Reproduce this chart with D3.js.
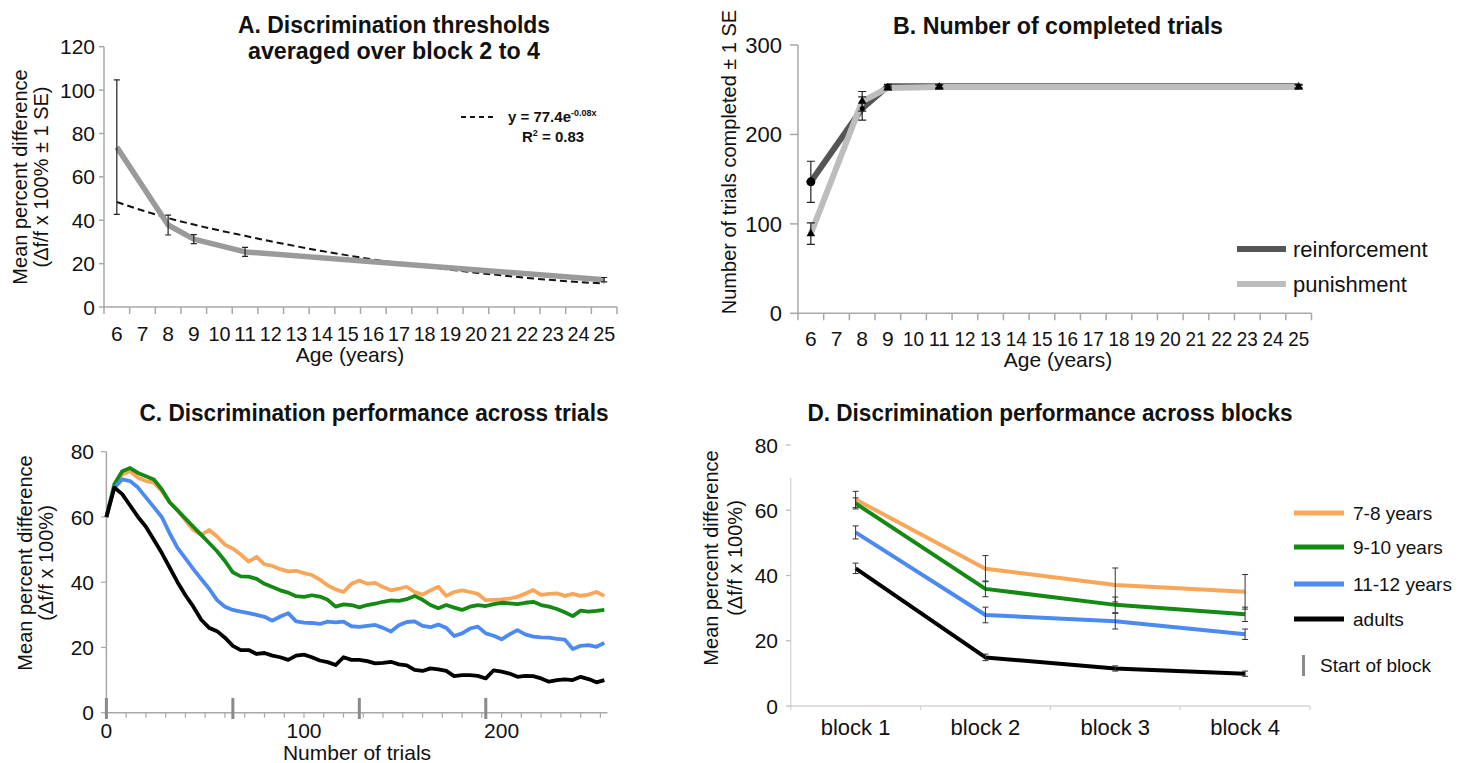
<!DOCTYPE html>
<html><head><meta charset="utf-8">
<script src="https://cdn.jsdelivr.net/npm/d3@7"></script>
<style>
body{margin:0;background:#fff}
svg text{font-family:"Liberation Sans",Arial,sans-serif;fill:#111}
</style>
</head><body>
<svg id="chart" width="1465" height="763"></svg>
<script>
// ---------------- DATA ----------------
const ageLabels = ["6","7","8","9","10","11","12","13","14","15","16","17","18","19","20","21","22","23","24","25"];
// Panel A
const thrAges = ["6","8","9","11","25"];
const thrMean = [73.7, 37.8, 31.3, 25.4, 12.6];
const thrSE   = [31, 4.6, 2.1, 2.1, 1.0];
const fitValues = [48.4,44.5,41,38,35.3,32.8,30.3,28,25.8,23.8,21.9,20.2,18.6,17.2,15.8,14.6,13.4,12.4,11.5,10.9];
const thrTicks = [0,20,40,60,80,100,120];
// Panel B
const compAges = ["6","8","9","11","25"];
const reinfTrials = [147, 229, 254, 254, 254];
const reinfSE     = [23, 13, 2, 2, 2];
const punTrials   = [89, 237, 252, 253, 253];
const punSE       = [12, 11, 2, 2, 2];
const compTicks = [0,100,200,300];
// Panel C
const trialIdx = [0,4,8,12,16,20,24,28,32,36,40,44,48,52,56,60,64,68,72,76,80,84,88,92,96,100,104,108,112,116,120,124,128,132,136,140,144,148,152,156,160,164,168,172,176,180,184,188,192,196,200,204,208,212,216,220,224,228,232,236,240,244,248,252];
const trials78 = [60,69,73,74,72,71,70.5,68,64.5,62,59,56,54.5,56,54,51.5,50.3,48.5,46.3,47.8,45.5,45,44,43.3,43.5,42.8,42.2,40.8,39,37.8,37,39.5,40.5,39.5,39.8,38.5,37.5,38,38.6,37,36.2,37.5,38.6,35.8,37,37.5,37,36.4,34.5,34.6,34.7,35,35.5,36.5,37.6,36.1,36.4,36.6,35.8,36.4,35.8,36.2,37,35.8];
const trials910 = [60,70,74,75,73.5,72.5,71.5,68.5,64.5,62,59.5,57,54.5,52,49.5,46.5,43,41.8,41.7,41,39.5,38.5,37.5,36.8,35.7,35.5,36,35.6,34.6,32.5,33.2,33,32.3,33,33.4,34,34.4,34.3,34.8,35.8,34.6,33,32,33,32.2,31.5,32.5,33,32.7,33.3,33.7,33.5,33.3,33.7,34,33,32.5,31.8,30.8,29.6,31.3,31,31.2,31.5];
const trials1112 = [60,69,71.5,71,69,66,63,60,55,50.5,47.3,44,41,38,34.5,32.5,31.5,31,30.5,30,29.4,28.2,29.5,30.5,28,27.6,27.5,27.2,27.9,27.7,27.9,26.5,26.3,26.6,26.9,26,24.9,26.8,27.8,28,26.6,26.2,27,26,23.5,24.3,25.8,26.4,24.3,23.6,22.5,24,25.3,24,23.3,23.1,23,22.6,22.4,19.5,20.5,20.7,20.2,21.4];
const trialsAdults = [60,69,67,63.5,60,57,53,49,44.5,40,36,32.5,28.5,26,25,23,20.5,19.2,19.2,18,18.3,17.5,17,16.2,17.5,17.8,17,16,15.5,14.6,17,16.2,16.2,15.8,15.1,15.3,15.6,14.8,14.5,13.1,12.8,13.6,13.3,12.8,11.2,11.5,11.5,11.3,10.5,13,12.6,12,11,11.3,11.2,10.5,9.5,10,10.2,10,11,10.3,9.3,10];
const blockStarts = [0,64,128,192];
const trialTicks = [0,100,200];
const perfTicks = [0,20,40,60,80];
// Panel D
const blockLabels = ["block 1","block 2","block 3","block 4"];
const groupNames = ["7-8 years","9-10 years","11-12 years","adults"];
const block78 = [63.3, 42.1, 37.1, 35.0];
const se78    = [2.5, 4.0, 5.2, 5.3];
const block910 = [62.1, 35.9, 31.0, 28.1];
const se910    = [1.7, 2.4, 2.4, 2.2];
const block1112 = [53.2, 27.9, 26.0, 22.0];
const se1112    = [2.0, 2.4, 2.4, 1.6];
const blockAdults = [42.2, 14.9, 11.5, 9.9];
const seAdults    = [1.6, 1.0, 0.8, 0.8];

const groupColors = ["#f8a65a","#148a14","#4a8af2","#000000"];

// ---------------- DRAW ----------------
const svg = d3.select("#chart");
svg.append("rect").attr("width",1465).attr("height",763).attr("fill","#fff");
const axisCol = "#a8a8a8";

function title(txt, cx, y, w) {
  svg.append("text").attr("x",cx).attr("y",y).attr("text-anchor","middle")
    .attr("font-weight","bold").attr("font-size",23)
    .attr("textLength",w).attr("lengthAdjust","spacingAndGlyphs").text(txt);
}
function yLabel(txt, x, cy, size) {
  svg.append("text").attr("transform",`translate(${x},${cy}) rotate(-90)`)
    .attr("text-anchor","middle").attr("dy","0.35em").attr("font-size",size||20).text(txt);
}
function errBars(g, xs, ys, means, ses, cap, col, w) {
  const d = means.map((m,i)=>({x:xs[i], m, s:ses[i]}));
  const e = g.append("g").attr("stroke",col).attr("stroke-width",w||1.2).attr("fill","none");
  e.selectAll("path").data(d).join("path")
    .attr("d", p => {
      const t = ys(p.m+p.s), b = ys(p.m-p.s);
      return `M${p.x},${t}V${b}M${p.x-cap},${t}H${p.x+cap}M${p.x-cap},${b}H${p.x+cap}`;
    });
}

// ===== Panel A =====
{
  const xA = d3.scaleBand().domain(ageLabels).range([104,617]);
  const yA = d3.scaleLinear().domain([0,120]).range([307,46.7]);
  const cx = a => xA(a) + xA.bandwidth()/2;
  const g = svg.append("g");
  g.append("line").attr("x1",104).attr("x2",104).attr("y1",yA(120)).attr("y2",yA(0)).attr("stroke",axisCol).attr("stroke-width",1.5);
  g.append("line").attr("x1",104).attr("x2",617).attr("y1",yA(0)).attr("y2",yA(0)).attr("stroke",axisCol).attr("stroke-width",1.5);
  const bounds = ageLabels.map(a=>xA(a)).concat([617]);
  g.selectAll(".bt").data(bounds).join("line").attr("x1",d=>d).attr("x2",d=>d).attr("y1",yA(0)).attr("y2",yA(0)+7).attr("stroke",axisCol).attr("stroke-width",1.5);
  g.selectAll(".yt").data(thrTicks).join("line").attr("x1",99).attr("x2",104).attr("y1",d=>yA(d)).attr("y2",d=>yA(d)).attr("stroke",axisCol).attr("stroke-width",1.5);
  g.selectAll(".yl").data(thrTicks).join("text").attr("x",95).attr("y",d=>yA(d)).attr("dy","0.36em").attr("text-anchor","end").attr("font-size",21).text(d=>d);
  g.selectAll(".xl").data(ageLabels).join("text").attr("x",d=>cx(d)).attr("y",341).attr("text-anchor","middle").attr("font-size",21)
    .attr("textLength",d=>d.length>1?22:null).attr("lengthAdjust","spacingAndGlyphs").text(d=>d);
  g.append("text").attr("x",350).attr("y",362).attr("text-anchor","middle").attr("font-size",21).text("Age (years)");
  yLabel("Mean percent difference", 20, 177);
  yLabel("(\u0394f/f x 100% \u00b1 1 SE)", 41, 177);
  g.append("path").datum(fitValues).attr("fill","none").attr("stroke","#111").attr("stroke-width",2).attr("stroke-dasharray","7,4")
    .attr("d", d3.line().x((d,i)=>cx(ageLabels[i])).y(d=>yA(d)).curve(d3.curveMonotoneX));
  g.append("path").datum(thrMean).attr("fill","none").attr("stroke","#9a9a9a").attr("stroke-width",5.5).attr("stroke-linejoin","round")
    .attr("d", d3.line().x((d,i)=>cx(thrAges[i])).y(d=>yA(d)));
  errBars(g, thrAges.map(cx), yA, thrMean, thrSE, 3, "#222", 1.2);
  g.append("line").attr("x1",461).attr("x2",495).attr("y1",117).attr("y2",117).attr("stroke","#111").attr("stroke-width",2).attr("stroke-dasharray","5,4");
  const t1 = g.append("text").attr("x",508).attr("y",122).attr("font-size",15).attr("font-weight","bold");
  t1.append("tspan").text("y = 77.4e");
  t1.append("tspan").attr("dy",-6).attr("font-size",9).text("-0.08x");
  const t2 = g.append("text").attr("x",522).attr("y",142).attr("font-size",15).attr("font-weight","bold");
  t2.append("tspan").text("R");
  t2.append("tspan").attr("dy",-6).attr("font-size",9).text("2");
  t2.append("tspan").attr("dy",6).text(" = 0.83");
  title("A. Discrimination thresholds", 394, 33, 312);
  title("averaged over block 2 to 4", 394, 59, 292);
}

// ===== Panel B =====
{
  const xB = d3.scaleBand().domain(ageLabels).range([798,1311.5]);
  const yB = d3.scaleLinear().domain([0,300]).range([313.3,45]);
  const cx = a => xB(a) + xB.bandwidth()/2;
  const g = svg.append("g");
  g.append("line").attr("x1",798).attr("x2",798).attr("y1",yB(300)).attr("y2",yB(0)).attr("stroke",axisCol).attr("stroke-width",1.5);
  g.append("line").attr("x1",798).attr("x2",1311.5).attr("y1",yB(0)).attr("y2",yB(0)).attr("stroke",axisCol).attr("stroke-width",1.5);
  const bounds = ageLabels.map(a=>xB(a)).concat([1311.5]);
  g.selectAll(".bt").data(bounds).join("line").attr("x1",d=>d).attr("x2",d=>d).attr("y1",yB(0)).attr("y2",yB(0)+7).attr("stroke",axisCol).attr("stroke-width",1.5);
  g.selectAll(".yt").data(compTicks).join("line").attr("x1",790).attr("x2",798).attr("y1",d=>yB(d)).attr("y2",d=>yB(d)).attr("stroke",axisCol).attr("stroke-width",1.5);
  g.selectAll(".yl").data(compTicks).join("text").attr("x",782).attr("y",d=>yB(d)).attr("dy","0.36em").attr("text-anchor","end").attr("font-size",22).text(d=>d);
  g.selectAll(".xl").data(ageLabels).join("text").attr("x",d=>cx(d)).attr("y",346).attr("text-anchor","middle").attr("font-size",21)
    .attr("textLength",d=>d.length>1?21:null).attr("lengthAdjust","spacingAndGlyphs").text(d=>d);
  g.append("text").attr("x",1058).attr("y",367).attr("text-anchor","middle").attr("font-size",21).text("Age (years)");
  yLabel("Number of trials completed \u00b1 1 SE", 729, 162);
  const line = ages => d3.line().x((d,i)=>cx(ages[i])).y(d=>yB(d));
  g.append("path").datum(reinfTrials).attr("fill","none").attr("stroke","#555").attr("stroke-width",6).attr("stroke-linejoin","round").attr("d", line(compAges));
  g.append("path").datum(punTrials).attr("fill","none").attr("stroke","#bdbdbd").attr("stroke-width",6).attr("stroke-linejoin","round").attr("d", line(compAges));
  errBars(g, compAges.map(cx), yB, reinfTrials, reinfSE, 4, "#222", 1.2);
  errBars(g, compAges.map(cx), yB, punTrials, punSE, 4, "#222", 1.2);
  g.selectAll(".mc").data(reinfTrials).join("circle").attr("cx",(d,i)=>cx(compAges[i])).attr("cy",d=>yB(d)).attr("r",(d,i)=>i===0?4.5:2.5).attr("fill","#000");
  g.selectAll(".mt").data(punTrials).join("path").attr("transform",(d,i)=>`translate(${cx(compAges[i])},${yB(d)})`)
    .attr("d", d3.symbol(d3.symbolTriangle).size(32)).attr("fill","#000");
  const leg = [["reinforcement","#555",249],["punishment","#bdbdbd",284]];
  leg.forEach(([name,col,y])=>{
    g.append("line").attr("x1",1237).attr("x2",1286).attr("y1",y).attr("y2",y).attr("stroke",col).attr("stroke-width",6);
    g.append("text").attr("x",1293).attr("y",y+8).attr("font-size",22).text(name);
  });
  title("B. Number of completed trials", 1058, 34, 330);
}

// ===== Panel C =====
{
  const xC = d3.scaleLinear().domain([0,253.6]).range([106.4,607.5]);
  const yC = d3.scaleLinear().domain([0,80]).range([712.7,451.7]);
  const g = svg.append("g");
  g.append("line").attr("x1",106.4).attr("x2",106.4).attr("y1",yC(80)).attr("y2",yC(0)).attr("stroke",axisCol).attr("stroke-width",1.5);
  g.append("line").attr("x1",106.4).attr("x2",607.5).attr("y1",yC(0)).attr("y2",yC(0)).attr("stroke",axisCol).attr("stroke-width",1.5);
  g.selectAll(".mt").data(d3.range(0,254,10)).join("line").attr("x1",d=>xC(d)).attr("x2",d=>xC(d)).attr("y1",yC(0)).attr("y2",yC(0)+5).attr("stroke",axisCol).attr("stroke-width",1.2);
  g.selectAll(".yt").data(perfTicks).join("line").attr("x1",101).attr("x2",106.4).attr("y1",d=>yC(d)).attr("y2",d=>yC(d)).attr("stroke",axisCol).attr("stroke-width",1.2);
  g.selectAll(".yl").data(perfTicks).join("text").attr("x",94).attr("y",d=>yC(d)).attr("dy","0.36em").attr("text-anchor","end").attr("font-size",21).text(d=>d);
  g.selectAll(".xl").data(trialTicks).join("text").attr("x",d=>xC(d)).attr("y",738).attr("text-anchor","middle").attr("font-size",21).text(d=>d);
  g.append("text").attr("x",357).attr("y",760).attr("text-anchor","middle").attr("font-size",21).text("Number of trials");
  yLabel("Mean percent difference", 25, 563);
  yLabel("(\u0394f/f x 100%)", 46, 563);
  const series = [trials78, trials910, trials1112, trialsAdults];
  series.forEach((s,k)=>{
    g.append("path").datum(s).attr("fill","none").attr("stroke",groupColors[k]).attr("stroke-width",3.8).attr("stroke-linejoin","round")
      .attr("d", d3.line().x((d,i)=>xC(trialIdx[i])).y(d=>yC(d)));
  });
  g.selectAll(".bs").data(blockStarts).join("rect").attr("x",d=>xC(d)-1.5).attr("y",698).attr("width",3).attr("height",21).attr("fill","#8a8a8a");
  title("C. Discrimination performance across trials", 374, 421, 469);
}

// ===== Panel D =====
{
  const xD = d3.scaleBand().domain(blockLabels).range([790.7,1310]);
  const yD = d3.scaleLinear().domain([0,80]).range([706,445]);
  const cx = b => xD(b) + xD.bandwidth()/2;
  const g = svg.append("g");
  const lightAx = "#d4d4d4";
  g.append("line").attr("x1",790.7).attr("x2",790.7).attr("y1",yD(70)).attr("y2",yD(0)).attr("stroke",lightAx).attr("stroke-width",1.3);
  g.append("line").attr("x1",790.7).attr("x2",1310).attr("y1",yD(0)).attr("y2",yD(0)).attr("stroke",lightAx).attr("stroke-width",1.3);
  const bounds = blockLabels.map(b=>xD(b)).concat([1310]);
  g.selectAll(".bt").data(bounds).join("line").attr("x1",d=>d).attr("x2",d=>d).attr("y1",yD(0)).attr("y2",yD(0)+4).attr("stroke",lightAx).attr("stroke-width",1.3);
  g.selectAll(".yt").data(perfTicks).join("line").attr("x1",786).attr("x2",790.7).attr("y1",d=>yD(d)).attr("y2",d=>yD(d)).attr("stroke","#bbb").attr("stroke-width",1.3);
  g.selectAll(".yl").data(perfTicks).join("text").attr("x",778).attr("y",d=>yD(d)).attr("dy","0.36em").attr("text-anchor","end").attr("font-size",21).text(d=>d);
  g.selectAll(".xl").data(blockLabels).join("text").attr("x",d=>cx(d)).attr("y",735).attr("text-anchor","middle").attr("font-size",22).text(d=>d);
  yLabel("Mean percent difference", 711, 558);
  yLabel("(\u0394f/f x 100%)", 735, 558);
  const means = [block78, block910, block1112, blockAdults];
  const ses = [se78, se910, se1112, seAdults];
  means.forEach((m,k)=>{
    g.append("path").datum(m).attr("fill","none").attr("stroke",groupColors[k]).attr("stroke-width",4).attr("stroke-linejoin","round")
      .attr("d", d3.line().x((d,i)=>cx(blockLabels[i])).y(d=>yD(d)));
  });
  means.forEach((m,k)=> errBars(g, blockLabels.map(cx), yD, m, ses[k], 3, "#333", 1));
  const legY = [513,547,584,619];
  groupNames.forEach((n,k)=>{
    g.append("line").attr("x1",1294).attr("x2",1344).attr("y1",legY[k]).attr("y2",legY[k]).attr("stroke",groupColors[k]).attr("stroke-width",5);
    g.append("text").attr("x",1353).attr("y",legY[k]+7).attr("font-size",19).text(n);
  });
  g.append("rect").attr("x",1302).attr("y",655).attr("width",3).attr("height",21).attr("fill","#8a8a8a");
  g.append("text").attr("x",1320).attr("y",672).attr("font-size",19).text("Start of block");
  title("D. Discrimination performance across blocks", 1050, 421, 485);
}
</script>
</body></html>
